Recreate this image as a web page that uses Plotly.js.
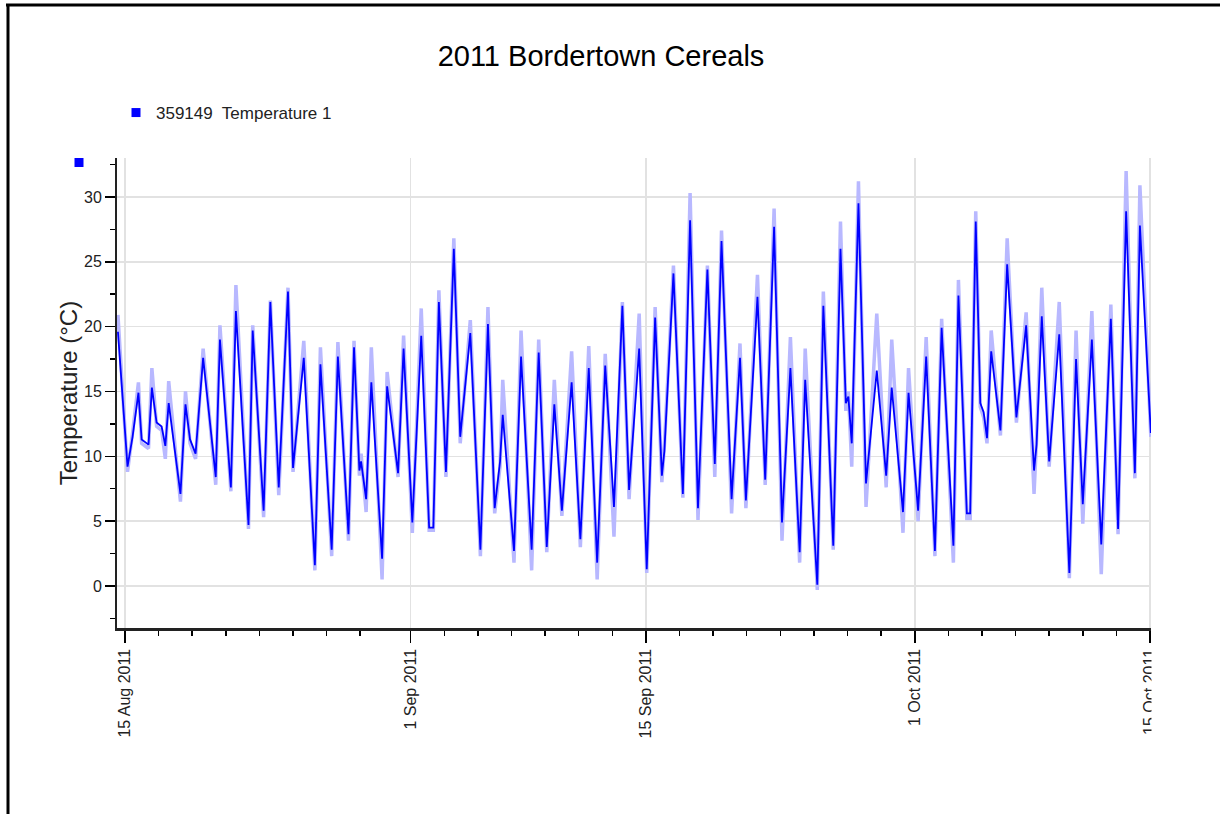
<!DOCTYPE html>
<html>
<head>
<meta charset="utf-8">
<script src="https://cdn.plot.ly/plotly-3.0.1.min.js"></script>
<style>
  html, body { margin: 0; padding: 0; background: #ffffff; }
  #chart { width: 1220px; height: 814px; }
</style>
</head>
<body>
<div id="chart"></div>
<script>
// ---- data (days after 15 Aug 2011 00:00) ----
const seriesName = "359149\u00a0 Temperature 1";
const startDate = "2011-08-15";

const dayOffset = [
  -0.42, 0.15, 0.45, 0.8, 0.99, 1.4, 1.6, 1.88, 2.18, 2.4,
  2.6, 3.3, 3.6, 3.87, 4.2, 4.65, 5.4, 5.65, 6.3, 6.6,
  7.35, 7.6, 8.25, 8.65, 9.15, 9.7, 10.0, 10.64, 11.3, 11.63,
  12.3, 12.67, 13.3, 13.63, 13.95, 14.05, 14.35, 14.66, 15.3, 15.6,
  16.25, 16.58, 17.1, 17.63, 18.1, 18.35, 18.68, 19.1, 19.57, 19.95,
  20.55, 21.15, 21.6, 22.0, 22.32, 22.48, 23.15, 23.57, 24.2, 24.62,
  25.1, 25.55, 26.0, 26.58, 27.1, 27.6, 28.1, 28.58, 29.1, 29.6,
  30.0, 30.6, 31.05, 31.55, 31.95, 32.1, 32.64, 33.2, 33.63, 34.1,
  34.66, 35.1, 35.5, 36.1, 36.6, 36.95, 37.64, 38.1, 38.63, 39.1,
  39.6, 40.15, 40.48, 41.2, 41.56, 42.15, 42.58, 42.9, 43.05, 43.25,
  43.65, 44.1, 44.74, 45.3, 45.63, 46.3, 46.63, 47.2, 47.68, 48.2,
  48.6, 49.3, 49.6, 50.1, 50.3, 50.63, 50.9, 51.1, 51.3, 51.55,
  52.1, 52.5, 53.05, 53.63, 54.1, 54.25, 54.56, 55.0, 55.6, 56.2,
  56.6, 57.0, 57.54, 58.1, 58.67, 59.1, 59.58, 60.1, 60.4, 61.05
];

// main (dark blue) temperature trace, °C
const temperature = [
  19.6, 9.2, 11.5, 14.9, 11.3, 10.9, 15.3, 12.6, 12.3, 10.8,
  14.1, 7.1, 14.0, 11.3, 10.2, 17.6, 8.4, 19.0, 7.6, 21.2,
  4.7, 19.7, 5.8, 21.9, 7.6, 22.7, 9.1, 17.6, 1.6, 17.1,
  2.8, 17.7, 4.0, 18.4, 8.9, 9.6, 6.7, 15.7, 2.1, 15.4,
  8.7, 18.3, 4.9, 19.3, 4.5, 4.5, 21.9, 8.8, 26.0, 11.5,
  19.5, 2.8, 20.2, 6.0, 9.6, 13.2, 2.7, 17.7, 2.8, 18.0,
  3.0, 14.0, 5.8, 15.7, 3.6, 16.8, 1.8, 17.0, 6.1, 21.6,
  7.4, 18.3, 1.3, 20.7, 8.5, 10.4, 24.1, 7.1, 28.2, 6.0,
  24.4, 9.4, 26.6, 6.7, 17.6, 6.6, 22.3, 8.2, 27.7, 4.9,
  16.8, 2.6, 15.9, 0.1, 21.6, 3.1, 26.0, 14.1, 14.6, 11.0,
  29.5, 7.9, 16.6, 8.5, 15.3, 5.7, 14.9, 5.8, 17.7, 2.7,
  19.9, 3.1, 22.4, 5.6, 5.6, 28.1, 14.1, 13.4, 11.4, 18.1,
  12.0, 24.8, 13.0, 20.1, 8.9, 10.9, 20.8, 9.6, 19.4, 1.0,
  17.5, 6.3, 19.0, 3.2, 20.6, 4.4, 28.9, 8.7, 27.8, 11.8
];

// pale envelope of the raw readings, °C
const temperatureRaw = [
  20.9, 8.8, 11.8, 15.7, 11.0, 10.6, 16.8, 12.3, 12.0, 9.8,
  15.8, 6.5, 15.0, 11.0, 9.8, 18.3, 7.8, 20.1, 7.3, 23.2,
  4.4, 20.1, 5.3, 22.0, 7.0, 23.0, 8.8, 18.9, 1.2, 18.4,
  2.3, 18.8, 3.5, 18.9, 8.5, 10.2, 5.7, 18.4, 0.5, 16.5,
  8.4, 19.3, 4.1, 21.4, 4.3, 4.3, 22.8, 8.4, 26.8, 11.0,
  20.5, 2.3, 21.5, 5.6, 9.2, 15.9, 1.8, 19.7, 1.2, 19.0,
  2.6, 15.9, 5.4, 18.1, 3.0, 18.5, 0.5, 17.9, 3.8, 21.9,
  6.7, 21.0, 1.0, 21.5, 8.0, 10.8, 24.7, 6.8, 30.3, 5.1,
  24.7, 8.4, 27.4, 5.6, 18.7, 6.0, 24.0, 7.8, 29.1, 3.5,
  19.2, 1.8, 18.3, -0.3, 22.7, 2.8, 28.1, 13.5, 15.0, 9.2,
  31.2, 6.1, 21.0, 7.6, 19.0, 4.1, 16.8, 5.0, 19.2, 2.3,
  20.6, 1.8, 23.6, 5.2, 5.2, 28.9, 13.8, 13.0, 11.0, 19.7,
  11.6, 26.8, 12.6, 21.1, 7.1, 11.3, 23.0, 9.2, 21.9, 0.6,
  19.7, 4.8, 21.2, 0.9, 21.7, 4.0, 32.0, 8.3, 30.9, 11.5
];

// axis ticks
const majorTickDates = ["2011-08-15", "2011-09-01", "2011-09-15", "2011-10-01", "2011-10-15"];
const majorTickLabels = ["15 Aug 2011", "1 Sep 2011", "15 Sep 2011", "1 Oct 2011", "15 Oct 2011"];
const minorTickDates = [
  "2011-08-17", "2011-08-19", "2011-08-21", "2011-08-23", "2011-08-25", "2011-08-27", "2011-08-29",
  "2011-09-03", "2011-09-05", "2011-09-07", "2011-09-09", "2011-09-11", "2011-09-13",
  "2011-09-17", "2011-09-19", "2011-09-21", "2011-09-23", "2011-09-25", "2011-09-27", "2011-09-29",
  "2011-10-03", "2011-10-05", "2011-10-07", "2011-10-09", "2011-10-11", "2011-10-13"
];

// ---- build ----
const DAY = 86400000;
const t0 = Date.parse(startDate + "T00:00:00Z");
function dateAt(d) {
  return new Date(t0 + d * DAY).toISOString().slice(0, 19).replace("T", " ");
}
const xTimes = dayOffset.map(dateAt);

const font = "Liberation Sans, Arial, sans-serif";

const traces = [
  {
    x: xTimes, y: temperatureRaw, type: "scatter", mode: "lines",
    line: { color: "#b8b8ff", width: 3.5 }, showlegend: false, hoverinfo: "skip"
  },
  {
    x: xTimes, y: temperature, type: "scatter", mode: "lines",
    line: { color: "#0000ff", width: 1.8 }, showlegend: false, name: seriesName
  },
  {
    x: [null], y: [null], type: "scatter", mode: "markers",
    marker: { symbol: "square", color: "#0000ff", size: 9 },
    name: seriesName, showlegend: true
  }
];

// plot area: x 117..1151 px, y 158..628 px
const L = 117, R = 1151, T = 158, B = 628;
const px = v => (v - L) / (R - L);
const py = v => (B - v) / (B - T);

const layout = {
  width: 1220, height: 814,
  margin: { l: L, r: 1220 - R, t: T, b: 814 - B },
  paper_bgcolor: "#ffffff", plot_bgcolor: "#ffffff",
  font: { family: font, color: "#222222", size: 16 },
  title: {
    text: "2011 Bordertown Cereals",
    font: { family: font, size: 29, color: "#000000" },
    xref: "container", yref: "container",
    x: 601 / 1220, xanchor: "center",
    y: 1 - 56 / 814, yanchor: "middle"
  },
  showlegend: true,
  legend: {
    x: px(116), xanchor: "left",
    y: py(113), yanchor: "middle",
    font: { family: font, size: 17, color: "#222222" },
    bgcolor: "rgba(0,0,0,0)"
  },
  xaxis: {
    type: "date",
    range: [dateAt(-0.476), dateAt(61.06)],
    tickmode: "array", tickvals: majorTickDates, ticktext: majorTickLabels,
    tickangle: -90,
    tickfont: { family: font, size: 16, color: "#222222" },
    ticks: "outside", ticklen: 12, tickwidth: 1.5, tickcolor: "#000000",
    showline: true, linecolor: "#222222", linewidth: 2.5,
    showgrid: true, gridcolor: "#e2e2e2", gridwidth: 1.5,
    zeroline: false,
    minor: { tickmode: "array", tickvals: minorTickDates, ticks: "outside", ticklen: 5, tickwidth: 1.5, tickcolor: "#000000", showgrid: false },
    fixedrange: true
  },
  yaxis: {
    range: [-3.24, 33.0],
    tickmode: "linear", tick0: 0, dtick: 5,
    tickfont: { family: font, size: 16, color: "#222222" },
    ticks: "outside", ticklen: 10, tickwidth: 1.5, tickcolor: "#000000",
    showline: true, linecolor: "#222222", linewidth: 2,
    showgrid: true, gridcolor: "#e2e2e2", gridwidth: 1.5,
    zeroline: false,
    minor: { dtick: 2.5, ticks: "outside", ticklen: 5, tickwidth: 1.5, tickcolor: "#000000", showgrid: false },
    title: { text: "Temperature (°C)", font: { family: font, size: 24, color: "#222222" }, standoff: 0 },
    fixedrange: true
  },
  shapes: [
    // outer frame (top and left edges)
    { type: "line", xref: "paper", yref: "paper", x0: px(6), x1: px(1222), y0: py(5), y1: py(5), line: { color: "#000000", width: 3 } },
    { type: "line", xref: "paper", yref: "paper", x0: px(8), x1: px(8), y0: py(4), y1: py(816), line: { color: "#000000", width: 3 } },
    // series marker at the top of the value axis
    { type: "rect", xref: "paper", yref: "paper", x0: px(74.5), x1: px(83.5), y0: py(158), y1: py(167), fillcolor: "#0000ff", line: { width: 0 } },
    // clip of the chart area on the right side
    { type: "rect", xref: "paper", yref: "paper", layer: "above", x0: px(1151.5), x1: px(1222), y0: py(641), y1: py(800), fillcolor: "#ffffff", line: { width: 0 } }
  ]
};

Plotly.newPlot("chart", traces, layout, { displayModeBar: false, staticPlot: true });
</script>
</body>
</html>
